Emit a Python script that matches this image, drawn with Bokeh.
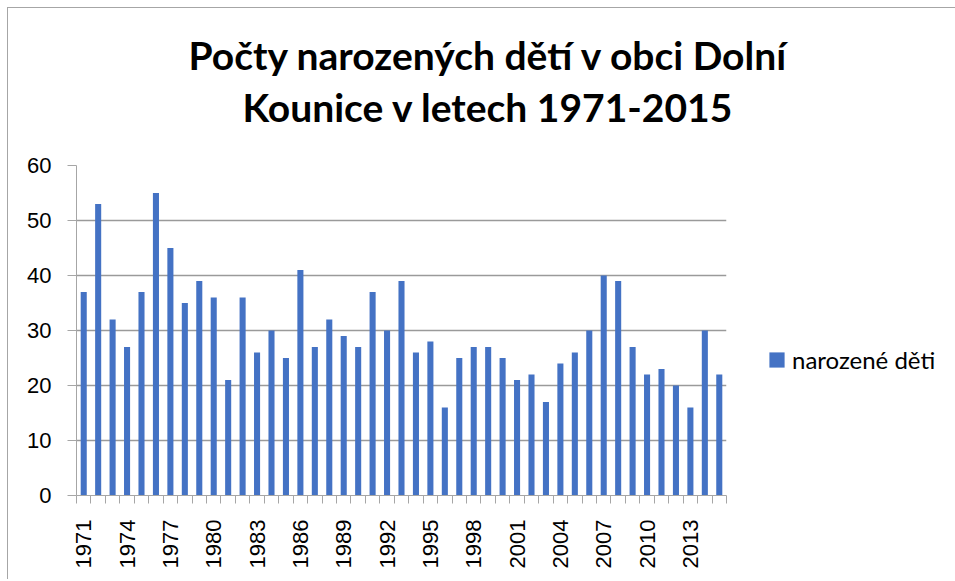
import math
from bokeh.plotting import figure
from bokeh.models import (ColumnDataSource, FixedTicker, Legend, LegendItem, Title,
                          CustomJSTickFormatter)
from bokeh.embed import file_html
from bokeh.resources import INLINE

years = list(range(1971, 2016))
births = [37, 53, 32, 27, 37, 55, 45, 35, 39, 36,
          21, 36, 26, 30, 25, 41, 27, 32, 29, 27,
          37, 30, 39, 26, 28, 16, 25, 27, 27, 25,
          21, 22, 17, 24, 26, 30, 40, 39, 27, 22,
          23, 20, 16, 30, 22]
series_name = "narozené děti"
title_line1 = "Počty narozených dětí v obci Dolní"
title_line2 = "Kounice v letech 1971-2015"
y_ticks = [0, 10, 20, 30, 40, 50, 60]
x_label_years = years[::3]

src = ColumnDataSource(dict(year=years, births=births))

p = figure(frame_width=650, frame_height=330, output_backend="svg", toolbar_location=None,
           x_range=(years[0] - 0.5, years[-1] + 0.5), y_range=(0, 60),
           min_border_left=68, min_border_right=228, min_border_top=157,
           min_border_bottom=85, margin=(8, 0, 0, 8))
p.styles = {"box-shadow": "-1px -1px 0 0 #a6a6a6"}
p.outline_line_color = None
p.background_fill_color = "white"
p.border_fill_color = "white"

r = p.vbar(x="year", top="births", width=0.42, source=src,
           fill_color="#4472C4", line_color=None)

# y axis
p.yaxis.ticker = FixedTicker(ticks=y_ticks)
p.yaxis.axis_line_color = "#a6a6a6"
p.yaxis.major_tick_line_color = "#a6a6a6"
p.yaxis.major_tick_out = 9
p.yaxis.major_tick_in = 0
p.yaxis.minor_tick_line_color = None
p.yaxis.major_label_text_font = "Liberation Sans"
p.yaxis.major_label_text_font_size = "22px"
p.yaxis.major_label_text_color = "#000000"
p.yaxis.major_label_standoff = 16

# x axis
boundaries = [y - 0.5 for y in years] + [years[-1] + 0.5]
p.xaxis.ticker = FixedTicker(ticks=x_label_years, minor_ticks=boundaries)
p.xaxis.axis_line_color = "#a6a6a6"
p.xaxis.major_tick_line_color = None
p.xaxis.minor_tick_line_color = "#a6a6a6"
p.xaxis.minor_tick_out = 8
p.xaxis.minor_tick_in = 0
p.xaxis.major_label_orientation = math.pi / 2
p.xaxis.major_label_text_font = "Liberation Sans"
p.xaxis.major_label_text_font_size = "22px"
p.xaxis.major_label_text_color = "#000000"
p.xaxis.major_label_standoff = 16
p.xaxis.formatter = CustomJSTickFormatter(code="return String(Math.round(tick));")

p.xgrid.grid_line_color = None
p.ygrid.ticker = FixedTicker(ticks=y_ticks)
p.ygrid.grid_line_color = "#9a9a9a"
p.ygrid.grid_line_width = 1.3

for txt, off, stand in ((title_line2, 166, 72), (title_line1, 112, -65)):
    p.add_layout(Title(text=txt, align="left", offset=off, standoff=stand,
                       text_font="Lato", text_font_style="bold",
                       text_font_size="39px", text_color="#000000"), "above")

legend = Legend(items=[LegendItem(label=series_name, renderers=[r])],
                location=(41, 121), padding=0, margin=0, border_line_color=None,
                background_fill_alpha=0, glyph_width=19, glyph_height=19,
                label_height=19, label_standoff=6, label_text_font="Lato",
                label_text_font_size="24px", label_text_color="#000000")
p.add_layout(legend, "right")

open("out.html", "w").write(file_html(p, INLINE))
